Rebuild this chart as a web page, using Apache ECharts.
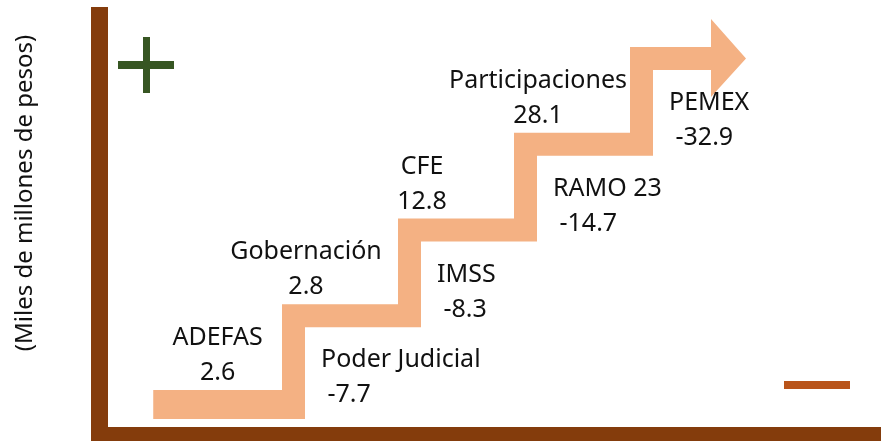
<!DOCTYPE html>
<html><head><meta charset="utf-8">
<script src="https://cdn.jsdelivr.net/npm/echarts@6/dist/echarts.min.js"></script>
<style>html,body{margin:0;padding:0;background:#fff}#c{width:881px;height:441px}</style>
</head><body><div id="c"></div>
<script>
// ---- data ----
const gainNames = ['ADEFAS', 'Gobernación', 'CFE', 'Participaciones'];
const gainValues = [2.6, 2.8, 12.8, 28.1];
const lossNames = ['Poder Judicial', 'IMSS', 'RAMO 23', 'PEMEX'];
const lossValues = [-7.7, -8.3, -14.7, -32.9];
const unitLabel = '(Miles de millones de pesos)';

// ---- styles ----
const STEP_COLOR = '#f4b183';
const FRAME_COLOR = '#843c0c';
const PLUS_COLOR = '#375623';
const MINUS_COLOR = '#b9541a';
const FONT = '"Noto Sans", "Open Sans", sans-serif';
const T = 23, T0 = 29;

const chart = echarts.init(document.getElementById('c'), null, {renderer: 'canvas'});
const nSteps = gainNames.length;

function stairItem(params, api) {
  const P = (x, y) => api.coord([x, y]);
  const x0 = P(-0.11, 0)[0];
  const pts = [];
  pts.push([x0, P(0, 0)[1]]);
  for (let k = 1; k <= nSteps; k++) {
    const a = P(k, k - 1), b = P(k, k);
    pts.push([a[0], a[1]]); pts.push([b[0], b[1]]);
  }
  const tip = P(nSteps + 1, nSteps);
  const base = tip[0] - 35;
  const yTop = P(nSteps, nSteps)[1];
  pts.push([base, yTop]); pts.push([base, yTop - 28]);
  pts.push([tip[0], yTop + T / 2]);
  pts.push([base, yTop + T + 27]); pts.push([base, yTop + T]);
  for (let k = nSteps; k >= 1; k--) {
    const b = P(k, k), a = P(k, k - 1);
    pts.push([b[0] + T, b[1] + T]);
    pts.push([a[0] + T, a[1] + (k === 1 ? T0 : T)]);
  }
  pts.push([x0, P(0, 0)[1] + T0]);
  return {type: 'polygon', shape: {points: pts}, style: {fill: STEP_COLOR}};
}

function gainLabel(params, api) {
  const i = params.dataIndex;
  const P = (x, y) => api.coord([x, y]);
  const top = P(i, i)[1];
  const cx = i === 0 ? (P(-0.11, 0)[0] + P(1, 0)[0]) / 2 : P(i, i)[0] + 24;
  return {type: 'text', x: cx, y: top - 34.5,
    style: {text: gainNames[i] + '\n' + gainValues[i], fill: '#111', font: '25px ' + FONT,
      align: 'center', verticalAlign: 'middle', lineHeight: 35}};
}

function lossLabel(params, api) {
  const i = params.dataIndex;
  const k = i + 1;
  const P = (x, y) => api.coord([x, y]);
  const p = P(k, k);
  return {type: 'text', x: p[0] + T + 16, y: p[1] + T + 50.5,
    style: {text: lossNames[i] + '\n ' + lossValues[i], fill: '#111', font: '25px ' + FONT,
      align: 'left', verticalAlign: 'middle', lineHeight: 35}};
}

chart.setOption({
  animation: false,
  backgroundColor: '#fff',
  grid: {left: 166, width: 580, top: 47, height: 343},
  xAxis: {type: 'value', min: 0, max: nSteps + 1, show: false},
  yAxis: {type: 'value', min: 0, max: nSteps, show: false},
  series: [
    {type: 'custom', clip: false, renderItem: stairItem, data: [0], silent: true},
    {type: 'custom', clip: false, renderItem: gainLabel, data: gainValues.map((v, i) => [i, i, v]), silent: true},
    {type: 'custom', clip: false, renderItem: lossLabel, data: lossValues.map((v, i) => [i + 1, i + 1, v]), silent: true}
  ],
  graphic: [
    {type: 'rect', shape: {x: 91, y: 7, width: 17, height: 434}, style: {fill: FRAME_COLOR}},
    {type: 'rect', shape: {x: 91, y: 427, width: 790, height: 14}, style: {fill: FRAME_COLOR}},
    {type: 'rect', shape: {x: 118, y: 61, width: 56, height: 8}, style: {fill: PLUS_COLOR}},
    {type: 'rect', shape: {x: 143, y: 37, width: 7, height: 56}, style: {fill: PLUS_COLOR}},
    {type: 'rect', shape: {x: 784, y: 381, width: 66, height: 8}, style: {fill: MINUS_COLOR}},
    {type: 'text', x: 25, y: 193, rotation: Math.PI / 2,
      style: {text: unitLabel, fill: '#111', font: '24px ' + FONT, align: 'center', verticalAlign: 'middle'}}
  ]
});
</script>
</body></html>
